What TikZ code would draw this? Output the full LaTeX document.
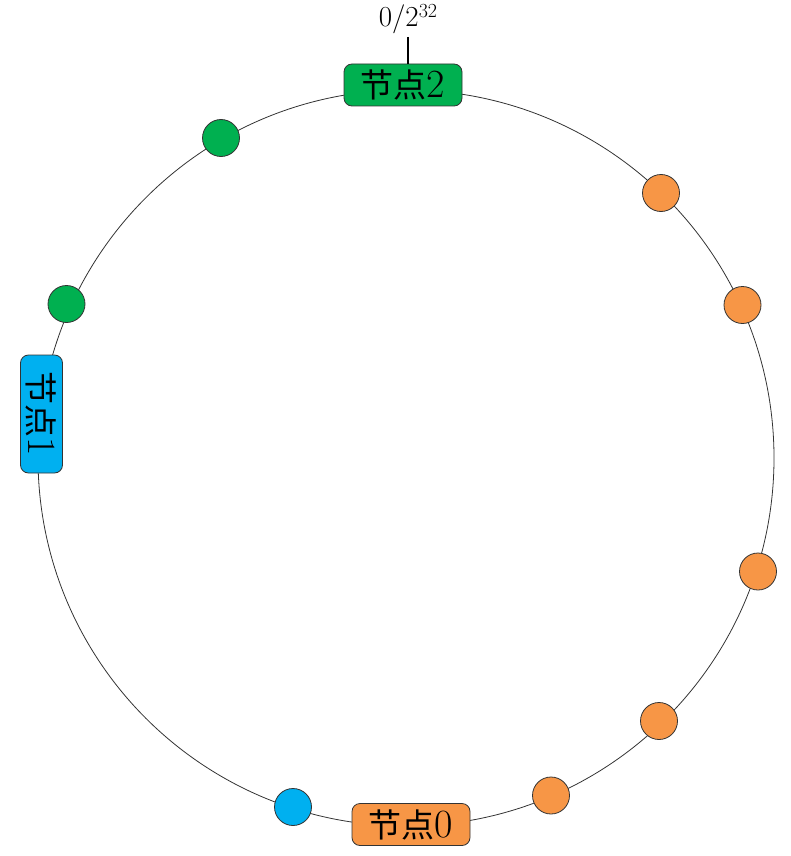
\documentclass[tikz,border=0pt]{standalone}
\usepackage{fontspec}
\newfontfamily\cjk{Noto Sans CJK SC}
\definecolor{ogreen}{HTML}{00B050}
\definecolor{oorange}{HTML}{F79646}
\definecolor{oblue}{HTML}{00B0F0}
\definecolor{edge}{HTML}{333333}
\tikzset{
  dot/.style={circle,draw=edge,line width=0.8pt,minimum size=37pt,inner sep=0pt},
  lbox/.style={rectangle,rounded corners=8pt,draw=edge,line width=0.8pt,minimum width=118pt,minimum height=42pt,inner sep=0pt},
  ring/.style={draw=edge,line width=0.8pt}
}
\newcommand{\lab}[1]{{\cjk\fontsize{33}{36}\selectfont 节点}{\fontsize{40}{42}\selectfont #1}}
\begin{document}
\begin{tikzpicture}[x=1pt,y=-1pt]
\useasboundingbox (0,0) rectangle (790,856);
\draw[ring] (406,458) circle[radius=368];
\node[lbox,fill=ogreen] (n2) at (403,85) {\lab{2}};
\node[lbox,fill=oblue,rotate=-90] (n1) at (41.5,414) {\lab{1}};
\node[lbox,fill=oorange] (n0) at (411,824.5) {\lab{0}};
\node[dot,fill=ogreen] (g1) at (221,138) {};
\node[dot,fill=ogreen] (g2) at (66.5,304) {};
\node[dot,fill=oorange] (o1) at (661,193) {};
\node[dot,fill=oorange] (o2) at (742.5,305) {};
\node[dot,fill=oorange] (o3) at (758,571.5) {};
\node[dot,fill=oorange] (o4) at (659,721) {};
\node[dot,fill=oorange] (o5) at (551,795.5) {};
\node[dot,fill=oblue] (b1) at (293,807) {};
\coordinate (tick) at (408,37);
\draw[line width=2.2pt] (tick) -- (tick |- n2.north);
\node[anchor=base,inner sep=0pt,yshift=10pt] (zero) at (tick) {\fontsize{29}{31}\selectfont 0/2\raisebox{9pt}{\fontsize{20}{21}\selectfont 32}};
\end{tikzpicture}
\end{document}
